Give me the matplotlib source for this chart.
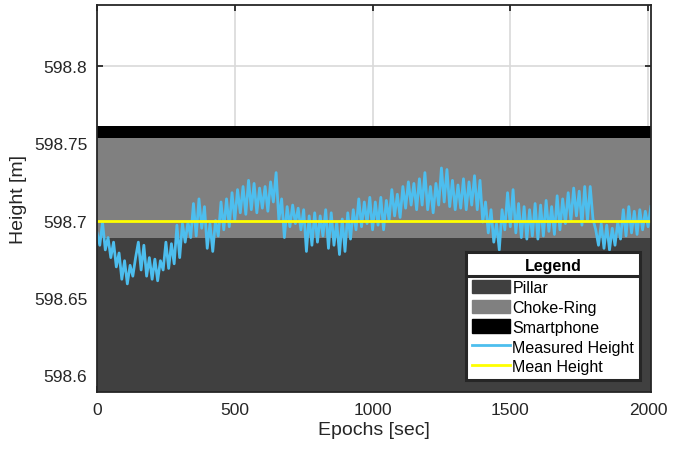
import numpy as np
import matplotlib
matplotlib.use('Agg')
import matplotlib.pyplot as plt
from matplotlib.patches import Patch
from matplotlib.lines import Line2D

plt.rcParams['font.family'] = ['Liberation Sans', 'DejaVu Sans']

# measured height, one value every 10 epochs (offset from 598 m)
epochs = np.arange(0, 2020, 10)
height_off = [
    0.692, 0.684, 0.699, 0.681, 0.689, 0.676, 0.686, 0.670, 0.679, 0.662,
    0.674, 0.659, 0.671, 0.664, 0.676, 0.686, 0.668, 0.684, 0.664, 0.676,
    0.662, 0.675, 0.661, 0.674, 0.668, 0.686, 0.669, 0.685, 0.672, 0.697,
    0.676, 0.698, 0.686, 0.699, 0.689, 0.711, 0.690, 0.714, 0.695, 0.709,
    0.682, 0.698, 0.680, 0.700, 0.690, 0.712, 0.694, 0.714, 0.696, 0.718,
    0.700, 0.720, 0.705, 0.722, 0.704, 0.726, 0.707, 0.724, 0.705, 0.721,
    0.708, 0.722, 0.706, 0.725, 0.712, 0.731, 0.700, 0.714, 0.689, 0.709,
    0.696, 0.710, 0.698, 0.708, 0.694, 0.707, 0.680, 0.703, 0.684, 0.705,
    0.686, 0.703, 0.690, 0.707, 0.682, 0.705, 0.684, 0.699, 0.678, 0.701,
    0.680, 0.705, 0.688, 0.707, 0.694, 0.714, 0.696, 0.712, 0.698, 0.715,
    0.694, 0.712, 0.697, 0.715, 0.694, 0.713, 0.700, 0.720, 0.703, 0.717,
    0.702, 0.722, 0.708, 0.725, 0.710, 0.724, 0.707, 0.727, 0.710, 0.731,
    0.707, 0.722, 0.705, 0.724, 0.710, 0.734, 0.712, 0.733, 0.709, 0.726,
    0.707, 0.723, 0.708, 0.727, 0.707, 0.725, 0.710, 0.729, 0.707, 0.726,
    0.699, 0.712, 0.692, 0.707, 0.686, 0.698, 0.681, 0.707, 0.694, 0.718,
    0.696, 0.720, 0.692, 0.711, 0.689, 0.709, 0.688, 0.707, 0.690, 0.711,
    0.688, 0.710, 0.690, 0.713, 0.693, 0.709, 0.691, 0.716, 0.694, 0.714,
    0.698, 0.718, 0.700, 0.721, 0.703, 0.719, 0.697, 0.722, 0.700, 0.722,
    0.701, 0.694, 0.684, 0.698, 0.682, 0.697, 0.681, 0.695, 0.684, 0.699,
    0.688, 0.707, 0.690, 0.709, 0.692, 0.706, 0.691, 0.707, 0.694, 0.706,
    0.696, 0.709,
]
height = 598 + np.array(height_off)
mean_height = 598.700

# layer tops [m]
pillar_top = 598.689
choke_top = 598.7537
phone_top = 598.7614

y_min, y_max = 598.589, 598.8395
x_max = 2010

fig = plt.figure(figsize=(6.94, 4.56), dpi=100)
ax = fig.add_axes([0.1398, 0.138, 0.798, 0.849])

ax.axhspan(y_min, pillar_top, color='#404040', lw=0, zorder=1)
ax.axhspan(pillar_top, choke_top, color='#808080', lw=0, zorder=1)
ax.axhspan(choke_top, phone_top, color='black', lw=0, zorder=1)
ax.plot(epochs, height, color='#4DBEEE', lw=2.0, zorder=3)
ax.axhline(mean_height, color='#FFFF00', lw=2.0, zorder=4)

ax.set_xlim(0, x_max)
ax.set_ylim(y_min, y_max)
ax.set_xticks([0, 500, 1000, 1500, 2000])
ax.set_yticks([598.6, 598.65, 598.7, 598.75, 598.8])
ax.set_yticklabels(['598.6', '598.65', '598.7', '598.75', '598.8'])
ax.grid(True, color='#d9d9d9', lw=1.2, zorder=0)
ax.set_axisbelow(True)
ax.tick_params(direction='in', top=True, right=True, length=4, width=1.3,
               labelsize=12.5, colors='#262626', pad=7)
for s in ax.spines.values():
    s.set_linewidth(1.3)
    s.set_color('#262626')
    s.set_zorder(6)
ax.set_xlabel('Epochs [sec]', fontsize=14, color='#262626', labelpad=3)
ax.set_ylabel('Height [m]', fontsize=14, color='#262626', labelpad=5)

handles = [Patch(facecolor='#404040', edgecolor='#404040'),
           Patch(facecolor='#808080', edgecolor='#808080'),
           Patch(facecolor='black', edgecolor='black'),
           Line2D([], [], color='#4DBEEE', lw=2),
           Line2D([], [], color='#FFFF00', lw=2)]
labels = ['Pillar', 'Choke-Ring', 'Smartphone', 'Measured Height', 'Mean Height']
leg = ax.legend(handles, labels, loc='lower right', bbox_to_anchor=(0.98, 0.031),
                fontsize=11.5, title='Legend', fancybox=False, framealpha=1,
                edgecolor='#262626', handlelength=2.4, handleheight=0.9,
                handletextpad=0.15, labelspacing=0.3, borderpad=0.35,
                borderaxespad=0)
leg.get_title().set_fontweight('bold')
leg.get_title().set_fontsize(11.5)
leg.get_frame().set_linewidth(2.2)
leg.set_zorder(10)
leg._legend_box.sep = 5

# separator under the legend title
fig.canvas.draw()
inv = fig.transFigure.inverted()
fb = leg.get_frame().get_window_extent()
tb = leg.get_title().get_window_extent()
hb = leg._legend_handle_box.get_window_extent()
y_sep = (tb.y0 + hb.y1) / 2
(x0, ys), (x1, _) = inv.transform([(fb.x0, y_sep), (fb.x1, y_sep)])
fig.add_artist(Line2D([x0, x1], [ys, ys], color='#262626', lw=2.2, zorder=11))

fig.savefig('out.png', dpi=100)
